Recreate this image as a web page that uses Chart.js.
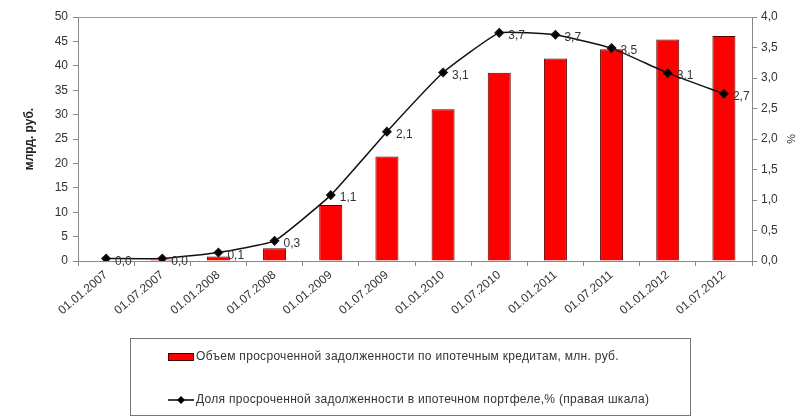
<!DOCTYPE html>
<html>
<head>
<meta charset="utf-8">
<script src="https://cdn.jsdelivr.net/npm/chart.js@4"></script>
<style>
  html, body { margin: 0; padding: 0; background: #fff; }
  #wrap { width: 801px; height: 419px; position: relative; }
</style>
</head>
<body>
<div id="wrap"><canvas id="myChart"></canvas></div>
<script>
const categories = ['01.01.2007','01.07.2007','01.01.2008','01.07.2008','01.01.2009','01.07.2009',
                    '01.01.2010','01.07.2010','01.01.2011','01.07.2011','01.01.2012','01.07.2012'];
const overdueVolume = [0.1, 0.3, 0.9, 2.6, 11.5, 21.4, 31.1, 38.6, 41.5, 43.4, 45.4, 46.1];
const overdueShare = [0.04, 0.04, 0.14, 0.33, 1.08, 2.12, 3.09, 3.74, 3.71, 3.49, 3.08, 2.74];
const volumeLabel = 'Объем просроченной задолженности по ипотечным кредитам, млн. руб.';
const shareLabel = 'Доля просроченной задолженности в ипотечном портфеле,% (правая шкала)';

const fmt = v => v.toFixed(1).replace('.', ',');
const FONT = '"Liberation Sans", Arial, sans-serif';

// labels next to the line points + top border + boxed legend
const extras = {
  id: 'extras',
  afterDatasetsDraw(chart) {
    const ctx = chart.ctx;
    const area = chart.chartArea;
    ctx.save();
    ctx.strokeStyle = '#999';
    ctx.lineWidth = 1;
    ctx.beginPath();
    ctx.moveTo(area.left, area.top + 0.5);
    ctx.lineTo(area.right, area.top + 0.5);
    ctx.stroke();

    const meta = chart.getDatasetMeta(1);
    ctx.font = '12px ' + FONT;
    ctx.fillStyle = '#333';
    ctx.textAlign = 'left';
    ctx.textBaseline = 'middle';
    meta.data.forEach((pt, i) => {
      ctx.fillText(fmt(overdueShare[i]), pt.x + 9, pt.y + 3);
    });

    // legend
    ctx.strokeStyle = '#777';
    ctx.strokeRect(130.5, 338.5, 560, 77);
    ctx.fillStyle = '#ff0000';
    ctx.fillRect(168, 353, 25, 7);
    ctx.strokeStyle = '#400';
    ctx.strokeRect(168.5, 353.5, 25, 7);
    ctx.strokeStyle = '#000';
    ctx.lineWidth = 1.5;
    ctx.beginPath();
    ctx.moveTo(168, 400);
    ctx.lineTo(194, 400);
    ctx.stroke();
    ctx.fillStyle = '#000';
    ctx.beginPath();
    ctx.moveTo(181, 396); ctx.lineTo(185, 400); ctx.lineTo(181, 404); ctx.lineTo(177, 400);
    ctx.closePath();
    ctx.fill();
    ctx.font = '12px ' + FONT;
    ctx.letterSpacing = '0.3px';
    ctx.fillStyle = '#333';
    ctx.fillText(volumeLabel, 196, 357);
    ctx.fillText(shareLabel, 196, 400);
    ctx.restore();
  }
};

new Chart(document.getElementById('myChart'), {
  type: 'bar',
  data: {
    labels: categories,
    datasets: [{
      type: 'bar',
      label: volumeLabel,
      data: overdueVolume,
      backgroundColor: '#ff0000',
      borderColor: '#5a0000',
      borderWidth: 1,
      barPercentage: 0.41,
      categoryPercentage: 1,
      yAxisID: 'y',
      order: 1
    }, {
      type: 'line',
      label: shareLabel,
      data: overdueShare,
      borderColor: '#111',
      borderWidth: 1.5,
      backgroundColor: '#000',
      pointStyle: 'rectRot',
      pointRadius: 4,
      tension: 0.12,
      yAxisID: 'y1',
      order: 0
    }]
  },
  options: {
    responsive: true,
    maintainAspectRatio: false,
    animation: false,
    layout: { padding: { top: 17, left: 0, right: 0, bottom: 0 } },
    plugins: { legend: { display: false }, tooltip: { enabled: false } },
    scales: {
      x: {
        offset: true,
        grid: { offset: true, drawOnChartArea: false, tickLength: 5, color: '#888' },
        border: { color: '#888' },
        ticks: {
          minRotation: 40, maxRotation: 40, color: '#333', padding: 2,
          font: { family: FONT, size: 12 }
        },
        afterFit: s => { s.height = 158; }
      },
      y: {
        position: 'left',
        min: 0, max: 50,
        ticks: { stepSize: 5, color: '#333', padding: 5, font: { family: FONT, size: 12 } },
        grid: { drawOnChartArea: false, tickLength: 5, color: '#888' },
        border: { color: '#888' },
        title: { display: true, text: 'млрд. руб.', color: '#222', padding: { top: 22, bottom: 0 },
          font: { family: FONT, size: 12, weight: 'bold' } },
        afterFit: s => { s.width = 78; }
      },
      y1: {
        position: 'right',
        min: 0, max: 4,
        ticks: { stepSize: 0.5, color: '#333', padding: 4, callback: v => fmt(v),
          font: { family: FONT, size: 12 } },
        grid: { drawOnChartArea: false, tickLength: 5, color: '#888' },
        border: { color: '#888' },
        title: { display: true, text: '%', color: '#333', padding: { top: 4, bottom: 0 },
          font: { family: FONT, size: 11 } },
        afterFit: s => { s.width = 49; }
      }
    }
  },
  plugins: [extras]
});
</script>
</body>
</html>
